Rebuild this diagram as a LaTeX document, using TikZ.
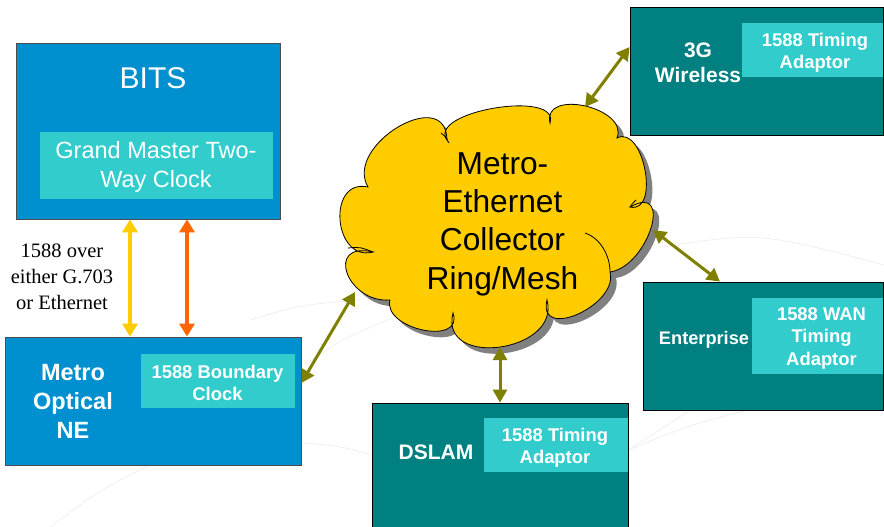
\documentclass[tikz,border=0pt]{standalone}
\usepackage{fontspec}
\setmainfont{Liberation Sans}
\newfontfamily\serifface{Liberation Serif}
\usetikzlibrary{arrows.meta}

\definecolor{bitsblue}{HTML}{0090D0}
\definecolor{darkteal}{HTML}{008080}
\definecolor{aqua}{HTML}{33CCCC}
\definecolor{cloudyellow}{HTML}{FFCC00}
\definecolor{cloudshadow}{HTML}{808080}
\definecolor{linkolive}{HTML}{808000}
\definecolor{syncyellow}{HTML}{FFCC00}
\definecolor{syncorange}{HTML}{FF6600}

% outline of the Metro-Ethernet cloud, ten puffs
\newcommand\cloudoutline{(368,187)
  .. controls (343.5,145.4) and (446.2,84.3) .. (447,140)
  .. controls (426.8,111.2) and (560.7,89.1) .. (550,123)
  .. controls (541.9,88.0) and (629.0,107.5) .. (617,138)
  .. controls (643.7,124.3) and (660.6,214.0) .. (630,207)
  .. controls (674.3,181.9) and (648.3,266.4) .. (610,272)
  .. controls (618.8,305.2) and (536.9,341.6) .. (547,300)
  .. controls (561.1,352.1) and (438.9,369.0) .. (453,313)
  .. controls (464.4,346.3) and (382.5,329.4) .. (390,300)
  .. controls (346.6,303.2) and (324.5,240.8) .. (373,252)
  .. controls (333.1,262.4) and (326.6,177.9) .. (368,187) -- cycle}

\begin{document}
\begin{tikzpicture}[x=1pt,y=-1pt,
  bluebox/.style={draw=black!70, line width=0.8pt, fill=bitsblue, inner sep=0pt},
  tealbox/.style={draw=black, line width=0.8pt, fill=darkteal, inner sep=0pt},
  padbox/.style={fill=aqua, inner sep=0pt},
  whitelabel/.style={text=white, align=center, inner sep=0pt},
  boldlabel/.style={whitelabel, font=\bfseries\fontsize{18.4}{21.7}\selectfont},
  faint/.style={draw=black!7, line width=0.7pt},
  link/.style={line width=3pt, draw=linkolive, {Triangle[length=13pt,width=14pt]}-{Triangle[length=13pt,width=14pt]}},
]
\useasboundingbox (0,0) rectangle (884,527);

% faint background swooshes
\draw[faint] (250,320) .. controls (300,305) .. (360,300);
\draw[faint] (305,365) .. controls (340,340) .. (392,318);
\draw[faint] (660,247) .. controls (760,232) .. (884,265);
\draw[faint] (302,443) .. controls (340,446) .. (372,455);
\draw[faint] (50,527) .. controls (100,490) .. (150,465);
\draw[faint] (628,450) .. controls (660,430) .. (690,410);
\draw[faint] (628,450) .. controls (690,425) .. (755,408);

% BITS with its grand master clock
\node[bluebox, minimum width=264pt, minimum height=176pt] (bits) at (148,131) {};
\node[padbox, minimum width=233pt, minimum height=67pt] (gmpad) at (156.5,165.5) {};
\node[whitelabel, font=\fontsize{30}{36}\selectfont] (bitslabel) at (153,78) {BITS};
\node[whitelabel, font=\fontsize{23.5}{29}\selectfont] (gmlabel) at (156,167) {Grand Master Two-\\Way Clock};

% metro optical network element with boundary clock
\node[bluebox, minimum width=296pt, minimum height=128pt] (mone) at (153,401) {};
\node[padbox, minimum width=154pt, minimum height=54pt] (bcpad) at (218,380.5) {};
\node[whitelabel, font=\bfseries\fontsize{23.5}{29}\selectfont] (monelabel) at (73,401) {Metro\\Optical\\NE};
\node[boldlabel] (bclabel) at (217.5,383) {1588 Boundary\\Clock};

% 3G wireless site
\node[tealbox, minimum width=253pt, minimum height=128pt] (wl) at (756.5,71) {};
\node[padbox, minimum width=141pt, minimum height=54pt] (wlpad) at (812.5,50.5) {};
\node[whitelabel, font=\bfseries\fontsize{21}{25}\selectfont] (wllabel) at (698,62.5) {3G\\Wireless};
\node[boldlabel] (wladaptor) at (815,53) {1588 Timing\\Adaptor};

% enterprise site
\node[tealbox, minimum width=240pt, minimum height=128pt] (ent) at (763,346) {};
\node[padbox, minimum width=131pt, minimum height=76pt] (entpad) at (817.5,336.3) {};
\node[whitelabel, font=\bfseries\fontsize{18.2}{22}\selectfont] (entlabel) at (704,340) {Enterprise};
\node[whitelabel, font=\bfseries\fontsize{18.4}{22.5}\selectfont] (entadaptor) at (821.5,338) {1588 WAN\\Timing\\Adaptor};

% DSLAM site
\node[tealbox, minimum width=256pt, minimum height=136pt] (dslam) at (500,471) {};
\node[padbox, minimum width=144pt, minimum height=54pt] (dslampad) at (555.5,445.3) {};
\node[whitelabel, font=\bfseries\fontsize{21}{25}\selectfont] (dslamlabel) at (436,452.5) {DSLAM};
\node[boldlabel] (dslamadaptor) at (555,447.8) {1588 Timing\\Adaptor};

% the collector cloud, with its drop shadow
\begin{scope}[shift={(6,6)}]
  \fill[cloudshadow] \cloudoutline;
\end{scope}
\filldraw[fill=cloudyellow, draw=black, line width=0.8pt] \cloudoutline;
\draw[line width=0.8pt] (585,233) .. controls (600,238) and (610,255) .. (610,272);
\draw[line width=0.8pt] (441,133) .. controls (445,136) .. (449,143);
\draw[line width=0.8pt] (348,248) .. controls (360,247) .. (373,252);
\draw[line width=0.8pt] (630,207) .. controls (632,204) .. (636,200);
\node[align=center, inner sep=0pt, font=\fontsize{31.7}{38.3}\selectfont] (cloudlabel) at (502.5,224) {Metro-\\Ethernet\\Collector\\Ring/Mesh};

% synchronisation links between BITS and the metro NE
\node[align=center, inner sep=0pt, font=\serifface\fontsize{20.5}{26}\selectfont] (synclabel) at (62,277) {1588 over\\either G.703\\or Ethernet};
\draw[line width=3.5pt, draw=syncyellow, {Triangle[length=13pt,width=15pt]}-{Triangle[length=13pt,width=15pt]}]
  ([xshift=-18pt]bits.south) -- ([xshift=-23pt]mone.north);
\draw[line width=3.5pt, draw=syncorange, {Triangle[length=13pt,width=15pt]}-{Triangle[length=13pt,width=15pt]}]
  ([xshift=39pt]bits.south) -- ([xshift=34pt]mone.north);

% cloud attachment points
\coordinate (cloudtop) at (585,107);
\coordinate (cloudright) at (653,230);
\coordinate (cloudbottom) at (500,347);
\coordinate (cloudleft) at (355,292);

% links from the cloud to every site
\draw[link] (cloudtop) -- ([yshift=24pt]wl.west);
\draw[link] (cloudright) -- ([xshift=-43pt]ent.north);
\draw[link] (cloudbottom) -- (dslam.north);
\draw[link] (cloudleft) -- ([yshift=18pt]mone.east);
\end{tikzpicture}
\end{document}
